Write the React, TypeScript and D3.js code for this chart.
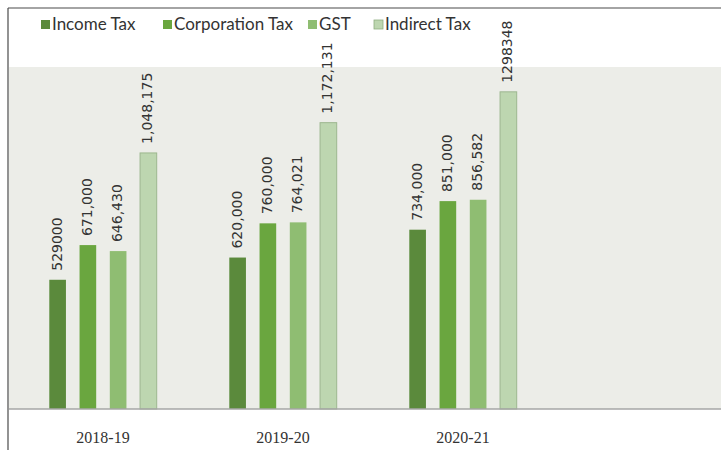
import React from "react";
import * as d3 from "d3";

const categories = ["2018-19", "2019-20", "2020-21"];
const seriesNames = ["Income Tax", "Corporation Tax", "GST", "Indirect Tax"];
const incomeTax = [529000, 620000, 734000];
const corporationTax = [671000, 760000, 851000];
const gst = [646430, 764021, 856582];
const indirectTax = [1048175, 1172131, 1298348];
const valueLabels = [
  ["529000", "620,000", "734,000"],
  ["671,000", "760,000", "851,000"],
  ["646,430", "764,021", "856,582"],
  ["1,048,175", "1,172,131", "1298348"],
];
const colors = ["#5b8a3c", "#6aa63f", "#8fbd72", "#bdd6b0"];

const W = 721;
const H = 450;

export default function App() {
  const series = [incomeTax, corporationTax, gst, indirectTax];
  const baseY = 409;
  const topY = 67;
  const y = d3.scaleLinear().domain([0, 1400000]).range([baseY, topY]);
  const x = d3.scaleBand<string>().domain(categories).range([13, 553]).paddingInner(0).paddingOuter(0);
  const inner = d3
    .scaleBand<string>()
    .domain(seriesNames)
    .range([0, x.bandwidth()])
    .paddingInner(0.45)
    .paddingOuter(1.2);

  const legendX = [41, 163, 308, 374];

  return (
    <svg
      width={W}
      height={H}
      style={{ position: "absolute", left: 0, top: 0, background: "#fff" }}
    >
      <rect x={0} y={0} width={W} height={H} fill="#ffffff" />
      {/* plot background */}
      <rect x={9} y={topY} width={W - 9} height={baseY - topY} fill="#ecede8" />
      {/* border */}
      <line x1={8} y1={8} x2={W} y2={8} stroke="#4a4a4a" strokeWidth={1.2} />
      <line x1={8} y1={8} x2={8} y2={H} stroke="#4a4a4a" strokeWidth={1.2} />
      {/* legend */}
      {seriesNames.map((s, i) => (
        <g key={s}>
          <rect x={legendX[i]} y={20} width={9} height={9} fill={colors[i]} stroke={i === 3 ? "#8fae80" : "none"} strokeWidth={0.8} />
          <text
            x={legendX[i] + 11}
            y={30}
            fontFamily="Lato, 'Open Sans', sans-serif"
            fontSize={17}
            fill="#333"
          >
            {s}
          </text>
        </g>
      ))}
      {/* bars */}
      {series.map((vals, si) =>
        categories.map((c, ci) => {
          const bx = (x(c) ?? 0) + (inner(seriesNames[si]) ?? 0);
          const bw = inner.bandwidth();
          const by = y(vals[ci]);
          return (
            <g key={`${si}-${ci}`}>
              <rect
                x={bx}
                y={by}
                width={bw}
                height={baseY - by}
                fill={colors[si]}
                stroke={si === 3 ? "#9db78f" : "none"}
                strokeWidth={1}
              />
              <text
                transform={`translate(${bx + bw / 2},${by - 9}) rotate(-90)`}
                fontFamily="'DejaVu Sans', sans-serif"
                fontSize={14}
                fill="#333"
                dominantBaseline="middle"
                textAnchor="start"
              >
                {valueLabels[si][ci]}
              </text>
            </g>
          );
        })
      )}
      {/* baseline */}
      <line x1={9} y1={baseY} x2={W} y2={baseY} stroke="#a6a6a6" strokeWidth={1.5} />
      {/* category labels */}
      {categories.map((c) => (
        <text
          key={c}
          x={(x(c) ?? 0) + x.bandwidth() / 2}
          y={443}
          textAnchor="middle"
          fontFamily="'Liberation Serif', serif"
          fontSize={16}
          fill="#333"
        >
          {c}
        </text>
      ))}
    </svg>
  );
}
